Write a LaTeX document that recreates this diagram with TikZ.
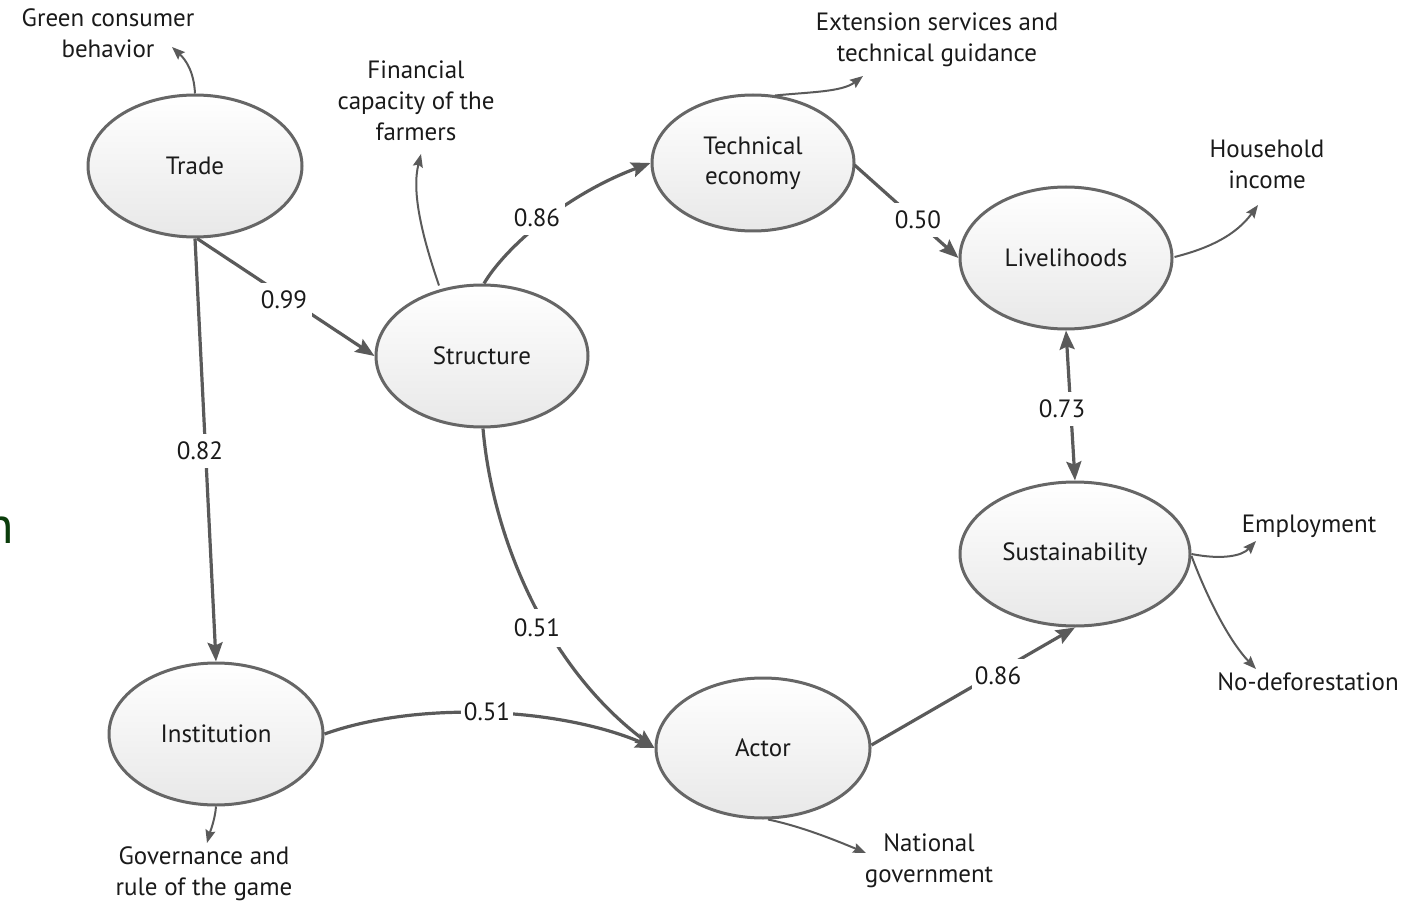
\documentclass[tikz,border=0pt]{standalone}
\usepackage{fontspec}
\setmainfont{PT Sans}
\usetikzlibrary{arrows.meta,shapes.geometric}
\definecolor{edgegray}{HTML}{5A5A5A}
\definecolor{rimgray}{HTML}{666666}
\definecolor{txt}{HTML}{1A1A1A}
\definecolor{darkgreen}{HTML}{0B3D0B}
\tikzset{
  lv/.style={ellipse, draw=rimgray, line width=3pt, top color=white, bottom color=black!9,
    inner sep=0pt, font=\fontsize{25}{30}\selectfont, text=txt, align=center},
  ind/.style={font=\fontsize{25}{31}\selectfont, text=txt, align=center},
  main/.style={draw=edgegray, line width=3.2pt, -{Stealth[length=19pt,width=15pt,inset=3pt]}},
  both/.style={draw=edgegray, line width=3.2pt, {Stealth[length=19pt,width=15pt,inset=3pt]}-{Stealth[length=19pt,width=15pt,inset=3pt]}},
  thin/.style={draw=edgegray, line width=2pt, -{Stealth[length=13pt,width=10pt,inset=2pt]}},
  wt/.style={fill=white, inner xsep=5pt, inner ysep=8pt, font=\fontsize{25}{30}\selectfont, text=txt}
}
\begin{document}
\begin{tikzpicture}[x=1pt,y=-1pt]
\useasboundingbox (0,0) rectangle (1424,901);
% stray glyph at left edge
\node[anchor=base east, text=darkgreen, font=\fontsize{52}{60}\selectfont, inner sep=0pt] (stray) at (14,543) {n};
% latent variables
\node[lv, minimum width=214pt, minimum height=142pt] (trade) at (195,166) {Trade};
\node[lv, minimum width=212pt, minimum height=142pt] (struct) at (482,356) {Structure};
\node[lv, minimum width=202pt, minimum height=136pt] (tech) at (753,163) {Technical\\economy};
\node[lv, minimum width=212pt, minimum height=142pt] (live) at (1066,258) {Livelihoods};
\node[lv, minimum width=230pt, minimum height=144pt] (sust) at (1075,554) {Sustainability};
\node[lv, minimum width=214pt, minimum height=142pt] (inst) at (216,734) {Institution};
\node[lv, minimum width=214pt, minimum height=140pt] (actor) at (763,748) {Actor};
% indicators
\node[ind] (green) at (108,33) {Green consumer\\behavior};
\node[ind] (fin) at (416,101) {Financial\\capacity of the\\farmers};
\node[ind] (ext) at (937,40) {Extension services and\\technical guidance};
\node[ind] (house) at (1267,164) {Household\\income};
\node[ind] (employ) at (1309,526) {Employment};
\node[ind] (nodef) at (1308,682) {No-deforestation};
\node[ind] (nat) at (929,861) {National\\government};
\node[ind] (gov) at (204,874) {Governance and\\rule of the game};
\coordinate (cgreen) at (172,47);
\coordinate (cfin) at (421,154);
\coordinate (cext) at (863,76);
\coordinate (chouse) at (1258,205);
\coordinate (cemploy) at (1256,541);
\coordinate (cnodef) at (1256,669);
\coordinate (cnat) at (866,853);
\coordinate (cgov) at (207,843);
% indicator arrows
\draw[thin] (trade.north) .. controls (194,72) and (186,60) .. (cgreen);
\draw[thin] (struct.north) ++(-43,2) .. controls (420,230) and (412,190) .. (cfin);
\draw[thin] (tech.north) ++(22,2) .. controls (810,92) and (842,92) .. (cext);
\draw[thin] (live.east) ++(1,-1) .. controls (1210,248) and (1236,235) .. (chouse);
\draw[thin] (sust.east) .. controls (1222,560) and (1242,556) .. (cemploy);
\draw[thin] (sust.east) ++(0,2) .. controls (1208,600) and (1230,642) .. (cnodef);
\draw[thin] (actor.south) ++(5,0) .. controls (800,826) and (835,840) .. (cnat);
\draw[thin] (inst.south) .. controls (215,820) and (210,832) .. (cgov);
% structural paths
\draw[main] (trade.south) ++(2,0) -- (struct.west);
\draw[main] (trade.south) -- (inst.north);
\draw[main] (struct.north) ++(2,0) .. controls (505,248) and (565,195) .. (tech.west);
\draw[main] (tech.east) ++(-1,2) -- (live.west);
\draw[both] (live.south) -- (sust.north);
\draw[main] (struct.south) ++(1,0) .. controls (492,535) and (545,665) .. (actor.west);
\draw[main] (inst.east) .. controls (420,700) and (560,708) .. (actor.west);
\draw[main] (actor.east) ++(0,-3) -- (sust.south);
% path coefficients
\node[wt] (l099) at (284,300) {0.99};
\node[wt, inner xsep=3pt] (l082) at (200,451) {0.82};
\node[wt] (l086a) at (537,218) {0.86};
\node[wt, inner xsep=3pt] (l050) at (918,220) {0.50};
\node[wt] (l073) at (1062,409) {0.73};
\node[wt, inner ysep=10pt] (l051a) at (537,628) {0.51};
\node[wt, inner xsep=3pt, inner ysep=5pt] (l051b) at (487,712) {0.51};
\node[wt, inner xsep=3pt] (l086b) at (998,676) {0.86};
\end{tikzpicture}
\end{document}
